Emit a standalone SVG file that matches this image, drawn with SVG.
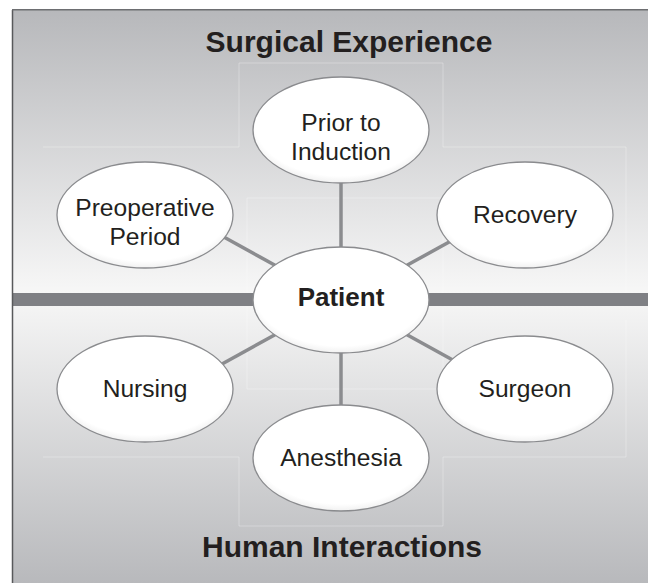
<svg xmlns="http://www.w3.org/2000/svg" width="648" height="583" viewBox="0 0 648 583">
  <style>
    .title { font-family: "Liberation Sans", Arial, sans-serif; font-weight: bold; font-size: 30px; fill: #231f20; text-anchor: middle; }
    .label { font-family: "Liberation Sans", Arial, sans-serif; font-size: 24.6px; fill: #231f20; text-anchor: middle; }
    .hub { font-family: "Liberation Sans", Arial, sans-serif; font-weight: bold; font-size: 26px; fill: #231f20; text-anchor: middle; }
    .bubble { fill: url(#bubbleFill); stroke: #8a8b8e; stroke-width: 1.3; }
    .link { stroke: #8b8c8f; stroke-width: 3.5; stroke-linecap: butt; fill: none; }
    .guide { stroke: #ffffff; stroke-opacity: 0.3; stroke-width: 1; fill: none; }
  </style>
  <defs>
    <linearGradient id="topBg" x1="0" y1="10" x2="0" y2="293" gradientUnits="userSpaceOnUse">
      <stop offset="0" stop-color="#b7b8bb"/>
      <stop offset="1" stop-color="#f7f7f7"/>
    </linearGradient>
    <linearGradient id="bottomBg" x1="0" y1="306" x2="0" y2="583" gradientUnits="userSpaceOnUse">
      <stop offset="0" stop-color="#f4f4f4"/>
      <stop offset="1" stop-color="#b8b9bc"/>
    </linearGradient>
    <radialGradient id="bubbleFill" cx="0.5" cy="0.45" r="0.55">
      <stop offset="0.88" stop-color="#ffffff"/>
      <stop offset="1" stop-color="#f1f1f1"/>
    </radialGradient>
  </defs>

  <!-- background panel -->
  <rect x="0" y="0" width="648" height="583" fill="#ffffff"/>
  <rect x="12" y="10" width="636" height="283" fill="url(#topBg)"/>
  <rect x="12" y="306" width="636" height="277" fill="url(#bottomBg)"/>
  <rect x="12" y="293" width="636" height="13" fill="#7f8084"/>
  <line x1="12.5" y1="10" x2="12.5" y2="583" stroke="#58595b" stroke-width="1.5"/>
  <line x1="12" y1="9.8" x2="648" y2="9.8" stroke="#6d6e71" stroke-width="1.5"/>

  <!-- faint layout guides -->
  <g id="guides">
    <polyline class="guide" points="43,147 239,147 239,63 443,63 443,147 626,147 626,293"/>
    <polyline class="guide" points="247,293 247,198 443,198 443,293"/>
    <polyline class="guide" points="43,457 239,457 239,526 443,526 443,457 626,457 626,320"/>
    <polyline class="guide" points="247,307 247,389 443,389 443,307"/>
  </g>

  <!-- section titles -->
  <text id="title-top" class="title" x="349" y="52">Surgical Experience</text>
  <text id="title-bottom" class="title" x="342" y="557">Human Interactions</text>

  <!-- connectors -->
  <g id="connectors">
    <line class="link" x1="341" y1="180" x2="341" y2="252"/>
    <line class="link" x1="222" y1="236" x2="280" y2="268"/>
    <line class="link" x1="460" y1="236" x2="402" y2="268"/>
    <line class="link" x1="222" y1="364" x2="280" y2="332"/>
    <line class="link" x1="460" y1="364" x2="402" y2="332"/>
    <line class="link" x1="341" y1="348" x2="341" y2="410"/>
  </g>

  <!-- nodes -->
  <g id="node-prior">
    <ellipse class="bubble" cx="341" cy="130" rx="88" ry="53"/>
    <text class="label" x="341" y="131">Prior to</text>
    <text class="label" x="341" y="160">Induction</text>
  </g>
  <g id="node-preop">
    <ellipse class="bubble" cx="145" cy="215" rx="88" ry="53"/>
    <text class="label" x="145" y="216">Preoperative</text>
    <text class="label" x="145" y="245">Period</text>
  </g>
  <g id="node-recovery">
    <ellipse class="bubble" cx="525" cy="215" rx="88" ry="53"/>
    <text class="label" x="525" y="223">Recovery</text>
  </g>
  <g id="node-patient">
    <ellipse class="bubble" cx="341" cy="300" rx="88" ry="53"/>
    <text class="hub" x="341" y="306">Patient</text>
  </g>
  <g id="node-nursing">
    <ellipse class="bubble" cx="145" cy="389" rx="88" ry="53"/>
    <text class="label" x="145" y="397">Nursing</text>
  </g>
  <g id="node-surgeon">
    <ellipse class="bubble" cx="525" cy="389" rx="88" ry="53"/>
    <text class="label" x="525" y="397">Surgeon</text>
  </g>
  <g id="node-anesthesia">
    <ellipse class="bubble" cx="341" cy="458" rx="88" ry="53"/>
    <text class="label" x="341" y="466">Anesthesia</text>
  </g>
</svg>
